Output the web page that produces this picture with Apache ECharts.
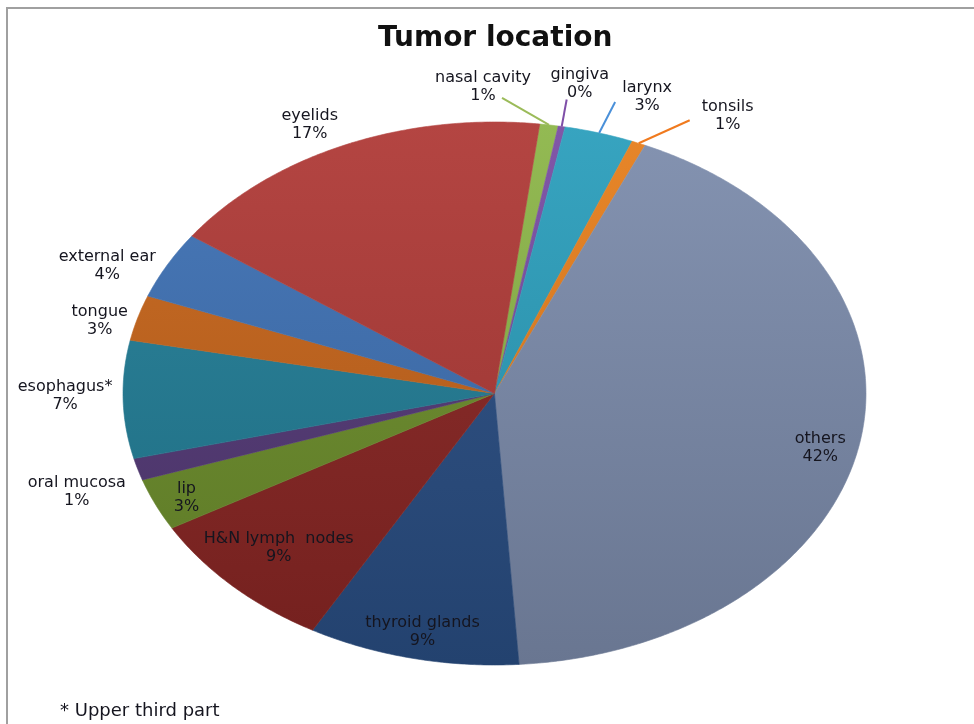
<!DOCTYPE html>
<html>
<head>
<meta charset="utf-8">
<script src="https://cdn.jsdelivr.net/npm/echarts@6/dist/echarts.min.js"></script>
<style>
html, body { margin: 0; padding: 0; background: #fff; }
#chart { width: 974px; height: 724px; }
</style>
</head>
<body>
<div id="chart"></div>
<script>
// slices in clockwise order, starting just right of 12 o'clock
var locations = ['nasal cavity', 'gingiva', 'larynx', 'tonsils', 'others', 'thyroid glands',
  'H&N lymph  nodes', 'lip', 'oral mucosa', 'esophagus*', 'tongue', 'external ear', 'eyelids'];
var shares = [0.8, 0.3, 3.0, 0.6, 42.3, 9.2, 8.6, 3.1, 1.3, 7.0, 2.7, 4.0, 17.1];

var sliceColors = ['#8db64a', '#7a4ea3', '#2c9fbd', '#e7801e', '#7d8dad', '#2a4e84',
  '#8a2624', '#6e8f2c', '#553a78', '#237f98', '#c7651b', '#3f72b5', '#b03b38'];

// label centre offset from the slice's outer edge midpoint (px)
var labelOffsets = [[-66, -38], [18, -43], [48, -36], [89, -27], [-40, 7], [10, -26],
  [46, -38], [31, -7], [-61, 23], [-58, -4], [-38, 3], [-60, 1], [-35, -20]];
// leader lines for the thin slices at the top: end point offset from edge, colour
var leaders = {
  0: { end: [-47, -27], color: '#9bbb59' },
  1: { end: [5, -27], color: '#7f4fa8' },
  2: { end: [16, -31], color: '#4a90d9' },
  3: { end: [51, -23], color: '#f07a1e' }
};

var START_ANGLE = 7;
var FONT = 'DejaVu Sans';
var total = shares.reduce(function (a, b) { return a + b; }, 0);
var starts = [];
var acc = 0;
shares.forEach(function (v) { starts.push(acc); acc += v; });

function shade(hex, f) {
  var c = echarts.color.parse(hex);
  var out = [0, 1, 2].map(function (k) {
    var x = f >= 0 ? c[k] + (255 - c[k]) * f : c[k] * (1 + f);
    return Math.round(x);
  });
  return 'rgb(' + out.join(',') + ')';
}

function ellipsePt(g, deg) {
  var r = deg * Math.PI / 180;
  return [g.cx + g.rx * Math.sin(r), g.cy - g.ry * Math.cos(r)];
}

function renderSlice(params, api) {
  var i = params.dataIndex;
  var W = api.getWidth(), H = api.getHeight();
  var g = { cx: W * 0.5077, cy: H * 0.5435, rx: W * 0.3814, ry: H * 0.375 };
  var v = api.value(1);
  var a0 = START_ANGLE + 360 * starts[i] / total;
  var a1 = a0 + 360 * v / total;
  var pts = [[g.cx, g.cy]];
  var n = Math.max(2, Math.ceil((a1 - a0) / 0.5));
  for (var j = 0; j <= n; j++) pts.push(ellipsePt(g, a0 + (a1 - a0) * j / n));

  var base = sliceColors[i];
  var fill = new echarts.graphic.LinearGradient(0, g.cy - g.ry, 0, g.cy + g.ry, [
    { offset: 0, color: shade(base, 0.05) },
    { offset: 1, color: shade(base, -0.16) }
  ], true);

  var edge = ellipsePt(g, (a0 + a1) / 2);
  var off = labelOffsets[i];
  var pct = Math.round(v / total * 100);
  var children = [{
    type: 'polygon',
    shape: { points: pts },
    style: { fill: fill, stroke: fill, lineWidth: 0.6 }
  }];
  var ld = leaders[i];
  if (ld) {
    children.push({
      type: 'polyline',
      shape: { points: [edge, [edge[0] + ld.end[0], edge[1] + ld.end[1]]] },
      style: { stroke: ld.color, lineWidth: 2, fill: null },
      z2: 5
    });
  }
  children.push({
    type: 'text',
    x: edge[0] + off[0],
    y: edge[1] + off[1],
    z2: 10,
    style: {
      text: locations[i] + '\n' + pct + '%',
      align: 'center',
      verticalAlign: 'middle',
      fontFamily: FONT,
      fontSize: 16,
      lineHeight: 18,
      fill: '#15151f'
    }
  });
  return { type: 'group', children: children };
}

var chart = echarts.init(document.getElementById('chart'));
chart.setOption({
  animation: false,
  title: {
    text: 'Tumor location',
    left: 378,
    top: 25,
    padding: 0,
    textStyle: { fontFamily: FONT, fontSize: 28, fontWeight: 'bold', color: '#111' }
  },
  graphic: [
    {
      type: 'rect',
      z: -10,
      shape: { x: 7, y: 8, width: 1000, height: 740 },
      style: { fill: null, stroke: '#a0a0a0', lineWidth: 2 }
    },
    {
      type: 'text',
      left: 60,
      top: 702,
      style: { text: '* Upper third part', fontFamily: FONT, fontSize: 18, fill: '#15151f' }
    }
  ],
  series: [{
    type: 'custom',
    coordinateSystem: 'none',
    silent: true,
    renderItem: renderSlice,
    data: shares.map(function (v, i) { return { name: locations[i], value: [i, v] }; })
  }]
});
</script>
</body>
</html>
